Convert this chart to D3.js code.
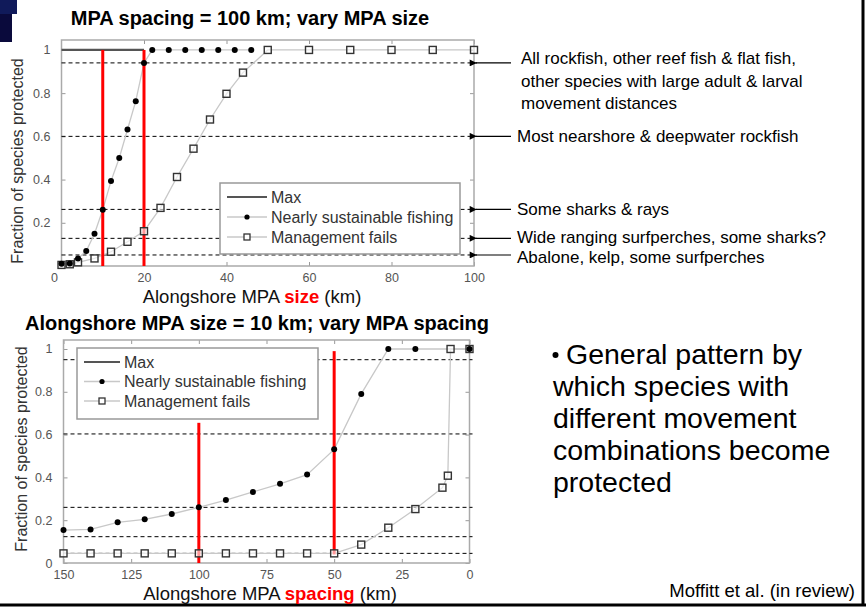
<!DOCTYPE html>
<html>
<head>
<meta charset="utf-8">
<script src="https://cdn.jsdelivr.net/npm/d3@7"></script>
<style>
  body { margin: 0; background: #fff; }
  svg { font-family: "Liberation Sans", Arial, sans-serif; }
</style>
</head>
<body>
<script>
const width = 866;
const height = 614;
const font = "'Liberation Sans', Arial, sans-serif";

// top panel: spacing fixed at 100 km, MPA size varies
const topFishX = [0, 2, 4, 6, 8, 10, 12, 14, 16, 18, 20, 22, 26, 30, 34, 38, 42, 46];
const topFishY = [0.01, 0.012, 0.035, 0.069, 0.149, 0.26, 0.393, 0.5, 0.632, 0.763, 0.94, 1, 1, 1, 1, 1, 1, 1];
const topFailX = [0, 2, 4, 8, 12, 16, 20, 24, 28, 32, 36, 40, 44, 50, 60, 70, 80, 90, 100];
const topFailY = [0.005, 0.008, 0.017, 0.035, 0.066, 0.112, 0.161, 0.269, 0.412, 0.543, 0.678, 0.797, 0.895, 1, 1, 1, 1, 1, 1];
const topMaxX = [0, 20];
const topRedX = [10, 20];
const topThresholds = [0.94, 0.6, 0.262, 0.128, 0.051];
const topXTicks = [20, 40, 60, 80, 100];
const topYTicks = [0.2, 0.4, 0.6, 0.8, 1];

// bottom panel: size fixed at 10 km, spacing varies
const botFishX = [150, 140, 130, 120, 110, 100, 90, 80, 70, 60, 50, 40, 30, 20, 0];
const botFishY = [0.154, 0.157, 0.19, 0.204, 0.229, 0.26, 0.294, 0.332, 0.37, 0.413, 0.531, 0.79, 1, 1, 1];
const botFailX = [150, 140, 130, 120, 110, 100, 90, 80, 70, 60, 50, 40, 30, 20, 10, 8, 7, 0];
const botFailY = [0.045, 0.045, 0.045, 0.045, 0.045, 0.045, 0.045, 0.045, 0.045, 0.045, 0.045, 0.086, 0.165, 0.252, 0.352, 0.408, 1, 1];
const botRedX = [100, 50];
const botRedTop = [0.655, 0.99];
const botRedBottom = [0, 0.04];
const botThresholds = [0.95, 0.603, 0.26, 0.123, 0.045];
const botXTicks = [150, 125, 100, 75, 50, 25, 0];
const botYTicks = [0, 0.2, 0.4, 0.6, 0.8, 1];

const legendNames = ["Max", "Nearly sustainable fishing", "Management fails"];
const groupLabels = [
  ["All rockfish, other reef fish & flat fish,", "other species with large adult & larval", "movement distances"],
  ["Most nearshore & deepwater rockfish"],
  ["Some sharks & rays"],
  ["Wide ranging surfperches, some sharks?"],
  ["Abalone, kelp, some surfperches"]
];
const bulletLines = ["General pattern by", "which species with", "different movement", "combinations become", "protected"];

const svg = d3.select("body").append("svg")
  .attr("width", width)
  .attr("height", height);

// slide decoration
svg.append("rect").attr("x", 0).attr("y", 0).attr("width", 12).attr("height", 42).attr("fill", "#0a0a3c");
svg.append("rect").attr("x", 0).attr("y", 0).attr("width", 17).attr("height", 14).attr("fill", "#101a5a");
svg.append("line").attr("x1", 863).attr("x2", 863).attr("y1", 0).attr("y2", 606)
  .attr("stroke", "#000").attr("stroke-width", 3);
svg.append("line").attr("x1", 0).attr("x2", 866).attr("y1", 605).attr("y2", 605)
  .attr("stroke", "#000").attr("stroke-width", 3);

function drawPanel(p) {
  const g = svg.append("g");
  const x = p.x, y = p.y;
  const [x0, x1] = x.range();
  const [y0, y1] = y.range();

  // frame ticks like matlab
  const fmt = d3.format("~g");
  const axes = [
    [d3.axisBottom(x).tickValues(p.xTicks).tickSize(-4).tickPadding(7).tickFormat(fmt), `translate(0,${y0})`],
    [d3.axisTop(x).tickValues(p.xTicks).tickSize(-4).tickFormat(""), `translate(0,${y1})`],
    [d3.axisLeft(y).tickValues(p.yTicks).tickSize(-4).tickPadding(11).tickFormat(fmt), `translate(${x0},0)`],
    [d3.axisRight(y).tickValues(p.yTicks).tickSize(-4).tickFormat(""), `translate(${x1},0)`]
  ];
  axes.forEach(([ax, tr]) => {
    const a = g.append("g").attr("transform", tr).call(ax);
    a.select(".domain").remove();
    a.selectAll("line").attr("stroke", "#999");
    a.selectAll("text").attr("fill", "#555").style("font-size", "12.5px").style("font-family", font);
  });
  g.append("rect")
    .attr("x", x0).attr("y", y1)
    .attr("width", x1 - x0).attr("height", y0 - y1)
    .attr("fill", "none").attr("stroke", "#aaa").attr("stroke-width", 1.5);

  // threshold dashes
  g.selectAll(".thr").data(p.thresholds).enter().append("line")
    .attr("x1", x0).attr("x2", x1 + 3)
    .attr("y1", d => y(d)).attr("y2", d => y(d))
    .attr("stroke", "#000").attr("stroke-width", 1).attr("stroke-dasharray", "4,3");

  const line = d3.line().x(d => x(d[0])).y(d => y(d[1]));
  const fish = d3.zip(p.fishX, p.fishY);
  const fail = d3.zip(p.failX, p.failY);

  g.append("path").datum(fail).attr("d", line)
    .attr("fill", "none").attr("stroke", "#c8c8c8").attr("stroke-width", 1.3);
  g.append("path").datum(fish).attr("d", line)
    .attr("fill", "none").attr("stroke", "#c8c8c8").attr("stroke-width", 1.3);
  if (p.maxX) {
    g.append("path").datum(p.maxX.map(v => [v, 1])).attr("d", line)
      .attr("fill", "none").attr("stroke", "#555").attr("stroke-width", 2.2);
  }

  // red markers of chosen sizes / spacings
  g.selectAll(".red").data(p.red).enter().append("line")
    .attr("x1", d => x(d.x)).attr("x2", d => x(d.x))
    .attr("y1", d => y(d.top)).attr("y2", d => y(d.bottom))
    .attr("stroke", "#ff0000").attr("stroke-width", 3);

  g.selectAll(".fail").data(fail).enter().append("rect")
    .attr("x", d => x(d[0]) - 3.5).attr("y", d => y(d[1]) - 3.5)
    .attr("width", 7).attr("height", 7)
    .attr("fill", "#fff").attr("fill-opacity", 0.6).attr("stroke", "#333").attr("stroke-width", 1.4);
  g.selectAll(".fish").data(fish).enter().append("circle")
    .attr("cx", d => x(d[0])).attr("cy", d => y(d[1])).attr("r", 3)
    .attr("fill", "#000");

  // legend
  const L = p.legend;
  const lg = g.append("g");
  lg.append("rect").attr("x", L.x).attr("y", L.y).attr("width", L.w).attr("height", L.h)
    .attr("fill", "#fff").attr("stroke", "#999").attr("stroke-width", 1.5);
  legendNames.forEach((name, i) => {
    const cy = L.y + 14 + i * L.step;
    lg.append("line").attr("x1", L.x + 7).attr("x2", L.x + 7 + L.sample).attr("y1", cy).attr("y2", cy)
      .attr("stroke", i === 0 ? "#555" : "#c8c8c8").attr("stroke-width", i === 0 ? 2.2 : 1.3);
    const mx = L.x + 7 + L.sample / 2;
    if (i === 1) lg.append("circle").attr("cx", mx).attr("cy", cy).attr("r", 2.6).attr("fill", "#000");
    if (i === 2) lg.append("rect").attr("x", mx - 3).attr("y", cy - 3).attr("width", 6).attr("height", 6)
      .attr("fill", "#fff").attr("stroke", "#333").attr("stroke-width", 1.3);
    lg.append("text").attr("x", L.x + 11 + L.sample).attr("y", cy + 5.5)
      .attr("fill", "#333").style("font-size", "16px").text(name);
  });

  // titles
  g.append("text").attr("x", p.titleX).attr("y", p.titleY).attr("text-anchor", "middle")
    .style("font-size", "20px").style("font-weight", "bold").text(p.title);
  const xl = g.append("text").attr("x", p.xLabelX).attr("y", p.xLabelY).attr("text-anchor", "middle")
    .style("font-size", "18.5px").attr("fill", "#111");
  xl.append("tspan").text("Alongshore MPA ");
  xl.append("tspan").attr("fill", "#ff0000").style("font-weight", "bold").text(p.xWord);
  xl.append("tspan").text(" (km)");
  g.append("text")
    .attr("transform", `translate(${p.yLabelX},${p.yLabelY}) rotate(-90)`)
    .attr("text-anchor", "middle").attr("fill", "#333")
    .style("font-size", "16px").text("Fraction of species protected");
  return g;
}

const topX = d3.scaleLinear().domain([0, 100]).range([61.5, 474]);
const topY = d3.scaleLinear().domain([0, 1.046]).range([266, 40]);
const topPanel = drawPanel({
  x: topX, y: topY,
  xTicks: topXTicks, yTicks: topYTicks,
  thresholds: topThresholds,
  fishX: topFishX, fishY: topFishY, failX: topFailX, failY: topFailY,
  maxX: topMaxX,
  red: topRedX.map(v => ({ x: v, top: 1, bottom: 0 })),
  legend: { x: 220, y: 183, w: 240, h: 71, step: 20, sample: 40 },
  title: "MPA spacing = 100 km; vary MPA size", titleX: 250, titleY: 25,
  xWord: "size", xLabelX: 252, xLabelY: 302.5,
  yLabelX: 23, yLabelY: 161
});
// matlab puts the origin label at the corner
topPanel.append("text").attr("x", topX(0) - 7).attr("y", topY(0) + 16)
  .attr("text-anchor", "middle").attr("fill", "#555").style("font-size", "12.5px").text("0");

// arrows and species groups on the right of top panel
svg.append("defs").append("marker")
  .attr("id", "head").attr("viewBox", "0 0 10 10").attr("refX", 1).attr("refY", 5)
  .attr("markerWidth", 10).attr("markerHeight", 7).attr("markerUnits", "userSpaceOnUse")
  .attr("orient", "auto")
  .append("path").attr("d", "M10,0 L0,5 L10,10 Z").attr("fill", "#000");
svg.selectAll(".arrow").data(topThresholds).enter().append("line")
  .attr("x1", 511).attr("x2", 476)
  .attr("y1", d => topY(d)).attr("y2", d => topY(d))
  .attr("stroke", "#000").attr("stroke-width", 1.2)
  .attr("marker-end", "url(#head)");
const labelShift = [1.5, 6, 6, 4.5, 8];
groupLabels.forEach((lines, i) => {
  const lx = i === 0 ? 521 : 517;
  const t = svg.append("text").attr("x", lx).attr("y", topY(topThresholds[i]) + labelShift[i])
    .style("font-size", "17px").attr("fill", "#000");
  lines.forEach((s, j) => t.append("tspan").attr("x", lx).attr("dy", j === 0 ? 0 : 22.5).text(s));
});

const botX = d3.scaleLinear().domain([150, 0]).range([63.5, 469.5]);
const botY = d3.scaleLinear().domain([0, 1.042]).range([563, 340]);
drawPanel({
  x: botX, y: botY,
  xTicks: botXTicks, yTicks: botYTicks,
  thresholds: botThresholds,
  fishX: botFishX, fishY: botFishY, failX: botFailX, failY: botFailY,
  maxX: null,
  red: botRedX.map((v, i) => ({ x: v, top: botRedTop[i], bottom: botRedBottom[i] })),
  legend: { x: 77, y: 348, w: 241, h: 71, step: 19.5, sample: 36 },
  title: "Alongshore MPA size = 10 km; vary MPA spacing", titleX: 257, titleY: 330,
  xWord: "spacing", xLabelX: 270, xLabelY: 599.5,
  yLabelX: 27, yLabelY: 449
});

// bullet text, continuation lines sit under the bullet
const bt = svg.append("text").attr("y", 363.5).style("font-size", "28.5px").attr("fill", "#000");
bulletLines.forEach((s, i) => bt.append("tspan").attr("x", i === 0 ? 566 : 553).attr("dy", i === 0 ? 0 : 32).text(s));
svg.append("circle").attr("cx", 555.5).attr("cy", 355).attr("r", 3).attr("fill", "#000");

svg.append("text").attr("x", 855).attr("y", 597).attr("text-anchor", "end")
  .style("font-size", "18.5px").text("Moffitt et al. (in review)");
</script>
</body>
</html>
